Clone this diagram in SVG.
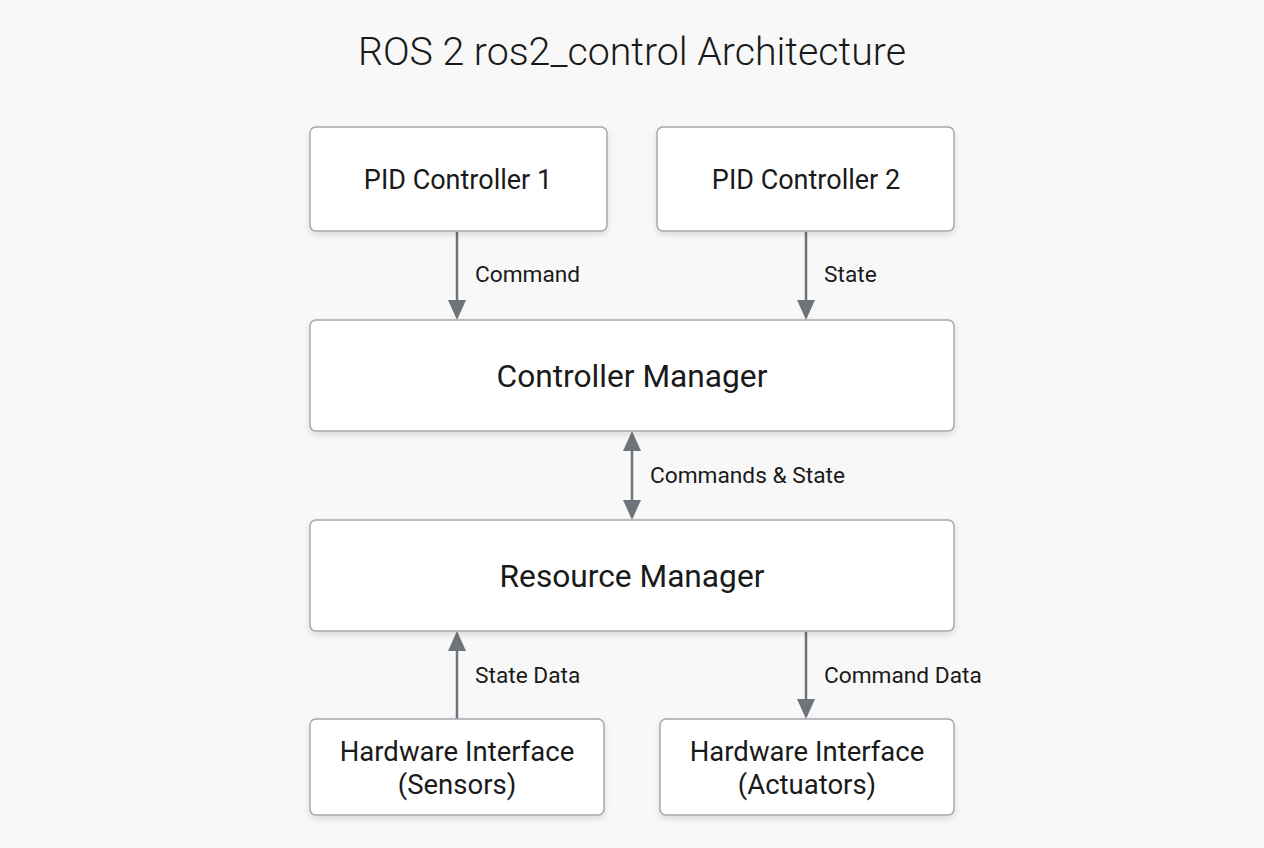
<svg xmlns="http://www.w3.org/2000/svg" width="1264" height="848" viewBox="0 0 1264 848">
<style>
.box{fill:#fff;stroke:#a4a8ad;stroke-width:1.5;filter:url(#sh)}
.t{font-family:Roboto,"Liberation Sans",sans-serif;fill:#1a1a1a;text-anchor:middle}
.l{font-family:Roboto,"Liberation Sans",sans-serif;fill:#1a1a1a;font-size:22.7px}
.c{stroke:#6f747a;stroke-width:2.5;fill:none}
</style>
<defs>
<filter id="sh" x="-10%" y="-20%" width="120%" height="150%"><feDropShadow dx="0" dy="3" stdDeviation="3" flood-color="#000" flood-opacity="0.12"/></filter>
</defs>
<rect width="1264" height="848" fill="#f8f8f8"/>
<text class="t" x="632" y="65" font-size="39.3" font-weight="300">ROS 2 ros2_control Architecture</text>
<g id="connectors">
<line class="c" x1="457" y1="232" x2="457" y2="300"/><path d="M448,300 L466,300 L457,320 z" fill="#6f747a"/>
<line class="c" x1="806" y1="232" x2="806" y2="300"/><path d="M797,300 L815,300 L806,320 z" fill="#6f747a"/>
<line class="c" x1="632" y1="451" x2="632" y2="500"/><path d="M623,500 L641,500 L632,520 z" fill="#6f747a"/><path d="M623,451 L641,451 L632,431 z" fill="#6f747a"/>
<line class="c" x1="457" y1="719" x2="457" y2="651"/><path d="M448,651 L466,651 L457,631 z" fill="#6f747a"/>
<line class="c" x1="806" y1="632" x2="806" y2="699"/><path d="M797,699 L815,699 L806,719 z" fill="#6f747a"/>
<text class="l" x="475" y="282">Command</text>
<text class="l" x="824" y="282">State</text>
<text class="l" x="650" y="483">Commands &amp; State</text>
<text class="l" x="475" y="683">State Data</text>
<text class="l" x="824" y="683">Command Data</text>
</g>
<g id="pid1"><rect class="box" x="310" y="127" width="297" height="104" rx="6"/><text class="t" x="458" y="189" font-size="27">PID Controller 1</text></g>
<g id="pid2"><rect class="box" x="657" y="127" width="297" height="104" rx="6"/><text class="t" x="806" y="189" font-size="27">PID Controller 2</text></g>
<g id="cm"><rect class="box" x="310" y="320" width="644" height="111" rx="6"/><text class="t" x="632" y="387" font-size="31.7">Controller Manager</text></g>
<g id="rm"><rect class="box" x="310" y="520" width="644" height="111" rx="6"/><text class="t" x="632" y="587" font-size="31.7">Resource Manager</text></g>
<g id="hws"><rect class="box" x="310" y="719" width="294" height="96" rx="6"/><text class="t" x="457" y="761" font-size="27.5">Hardware Interface</text><text class="t" x="457" y="794" font-size="27.5">(Sensors)</text></g>
<g id="hwa"><rect class="box" x="660" y="719" width="294" height="96" rx="6"/><text class="t" x="807" y="761" font-size="27.5">Hardware Interface</text><text class="t" x="807" y="794" font-size="27.5">(Actuators)</text></g>
</svg>
